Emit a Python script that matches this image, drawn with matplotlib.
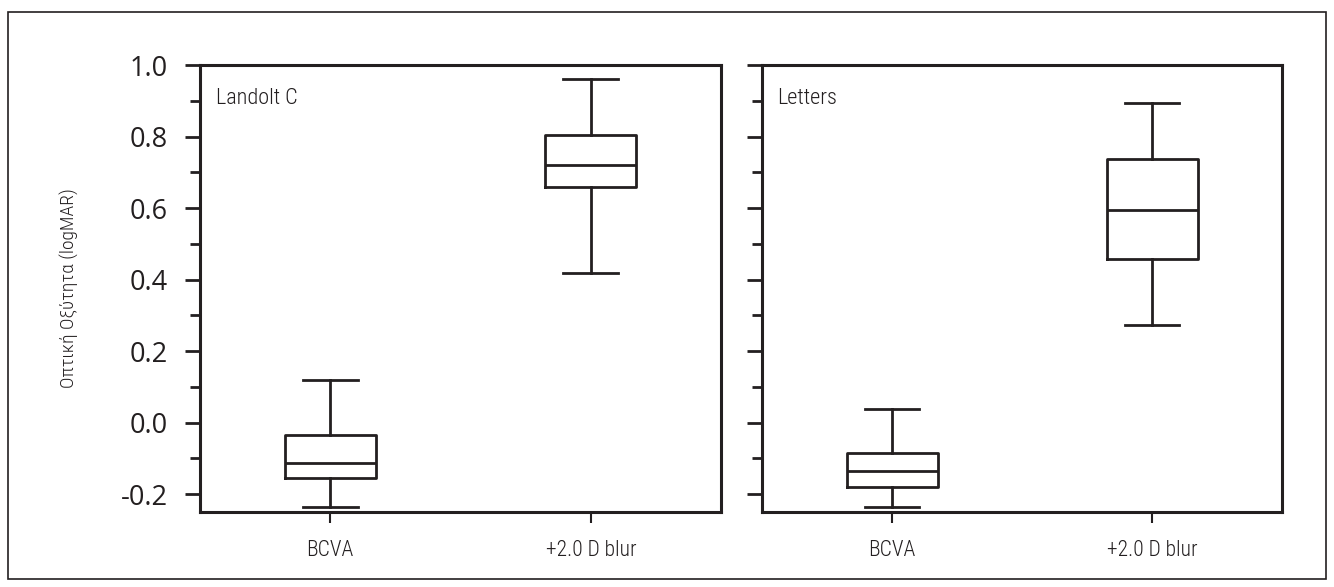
import matplotlib
matplotlib.use("Agg")
import matplotlib.pyplot as plt
from matplotlib.patches import Rectangle
from matplotlib.ticker import MultipleLocator
from matplotlib import font_manager as fm

categories = ["BCVA", "+2.0 D blur"]
panel_titles = ["Landolt C", "Letters"]
ylabel = "Οπτική Οξύτητα (logMAR)"
ytick_values = [-0.2, 0.0, 0.2, 0.4, 0.6, 0.8, 1.0]
ytick_labels = ["-0.2", "0.0", "0.2", "0.4", "0.6", "0.8", "1.0"]

# whisker low, Q1, median, Q3, whisker high
landolt_bcva = [-0.236, -0.154, -0.112, -0.036, 0.120]
landolt_blur = [0.417, 0.658, 0.720, 0.804, 0.961]
letters_bcva = [-0.236, -0.181, -0.134, -0.085, 0.039]
letters_blur = [0.273, 0.458, 0.595, 0.737, 0.894]

panels = [[landolt_bcva, landolt_blur], [letters_bcva, letters_blur]]

C = "#231f20"
W, H = 1334, 587
fig = plt.figure(figsize=(W / 100, H / 100), dpi=100)

names = {f.name for f in fm.fontManager.ttflist}
cond = [n for n in ["Liberation Sans Narrow", "DejaVu Sans Condensed", "Roboto Condensed",
                    "Open Sans Condensed"] if n in names]
label_font = cond[:1] + ["DejaVu Sans"]
stretch = "normal" if cond else "condensed"
tick_font = ["Open Sans", "DejaVu Sans"]
lw_text = "light"

# outer frame
fig.patches.append(Rectangle((8 / W, 1 - 579 / H), (1326 - 8) / W, (579 - 12) / H,
                             transform=fig.transFigure, fill=False, ec=C, lw=1.2))

axes_px = [(200, 721), (762, 1282)]
top_px, bot_px = 65, 512
for i, (x0, x1) in enumerate(axes_px):
    ax = fig.add_axes([x0 / W, 1 - bot_px / H, (x1 - x0) / W, (bot_px - top_px) / H])
    stats = []
    for lab, v in zip(categories, panels[i]):
        stats.append(dict(label=lab, whislo=v[0], q1=v[1], med=v[2], q3=v[3], whishi=v[4], fliers=[]))
    lp = dict(color=C, linewidth=2.0)
    ax.bxp(stats, positions=[1, 2], widths=0.35, showfliers=False,
           boxprops=lp, whiskerprops=lp, capprops=lp, medianprops=lp,
           capwidths=0.21)
    ax.set_xlim(0.5, 2.5)
    ax.set_ylim(-0.25, 1.0)
    ax.set_yticks(ytick_values)
    ax.yaxis.set_minor_locator(MultipleLocator(0.1))
    if i == 0:
        ax.set_yticklabels(ytick_labels, fontfamily=tick_font, fontsize=19.5, color=C)
        ax.set_ylabel(ylabel, fontfamily=label_font, fontstretch=stretch, fontweight=lw_text,
                      fontsize=14, color=C, labelpad=30)
    else:
        ax.set_yticklabels([])
    ax.set_xticks([1, 2])
    ax.set_xticklabels(categories, fontfamily=label_font, fontstretch=stretch,
                       fontweight=lw_text, fontsize=15.5, color=C)
    ax.tick_params(axis="y", which="major", length=11, width=2.0, color=C, direction="out", pad=12)
    ax.tick_params(axis="y", which="minor", length=7, width=2.0, color=C, direction="out")
    ax.tick_params(axis="x", which="major", length=8, width=1.5, color=C, direction="out", pad=12)
    for s in ax.spines.values():
        s.set_linewidth(2.2)
        s.set_color(C)
    ax.text(0.03, 0.925, panel_titles[i], transform=ax.transAxes, fontfamily=label_font,
            fontstretch=stretch, fontweight=lw_text, fontsize=16, color=C, ha="left", va="center")

fig.savefig("out.png", dpi=100)
